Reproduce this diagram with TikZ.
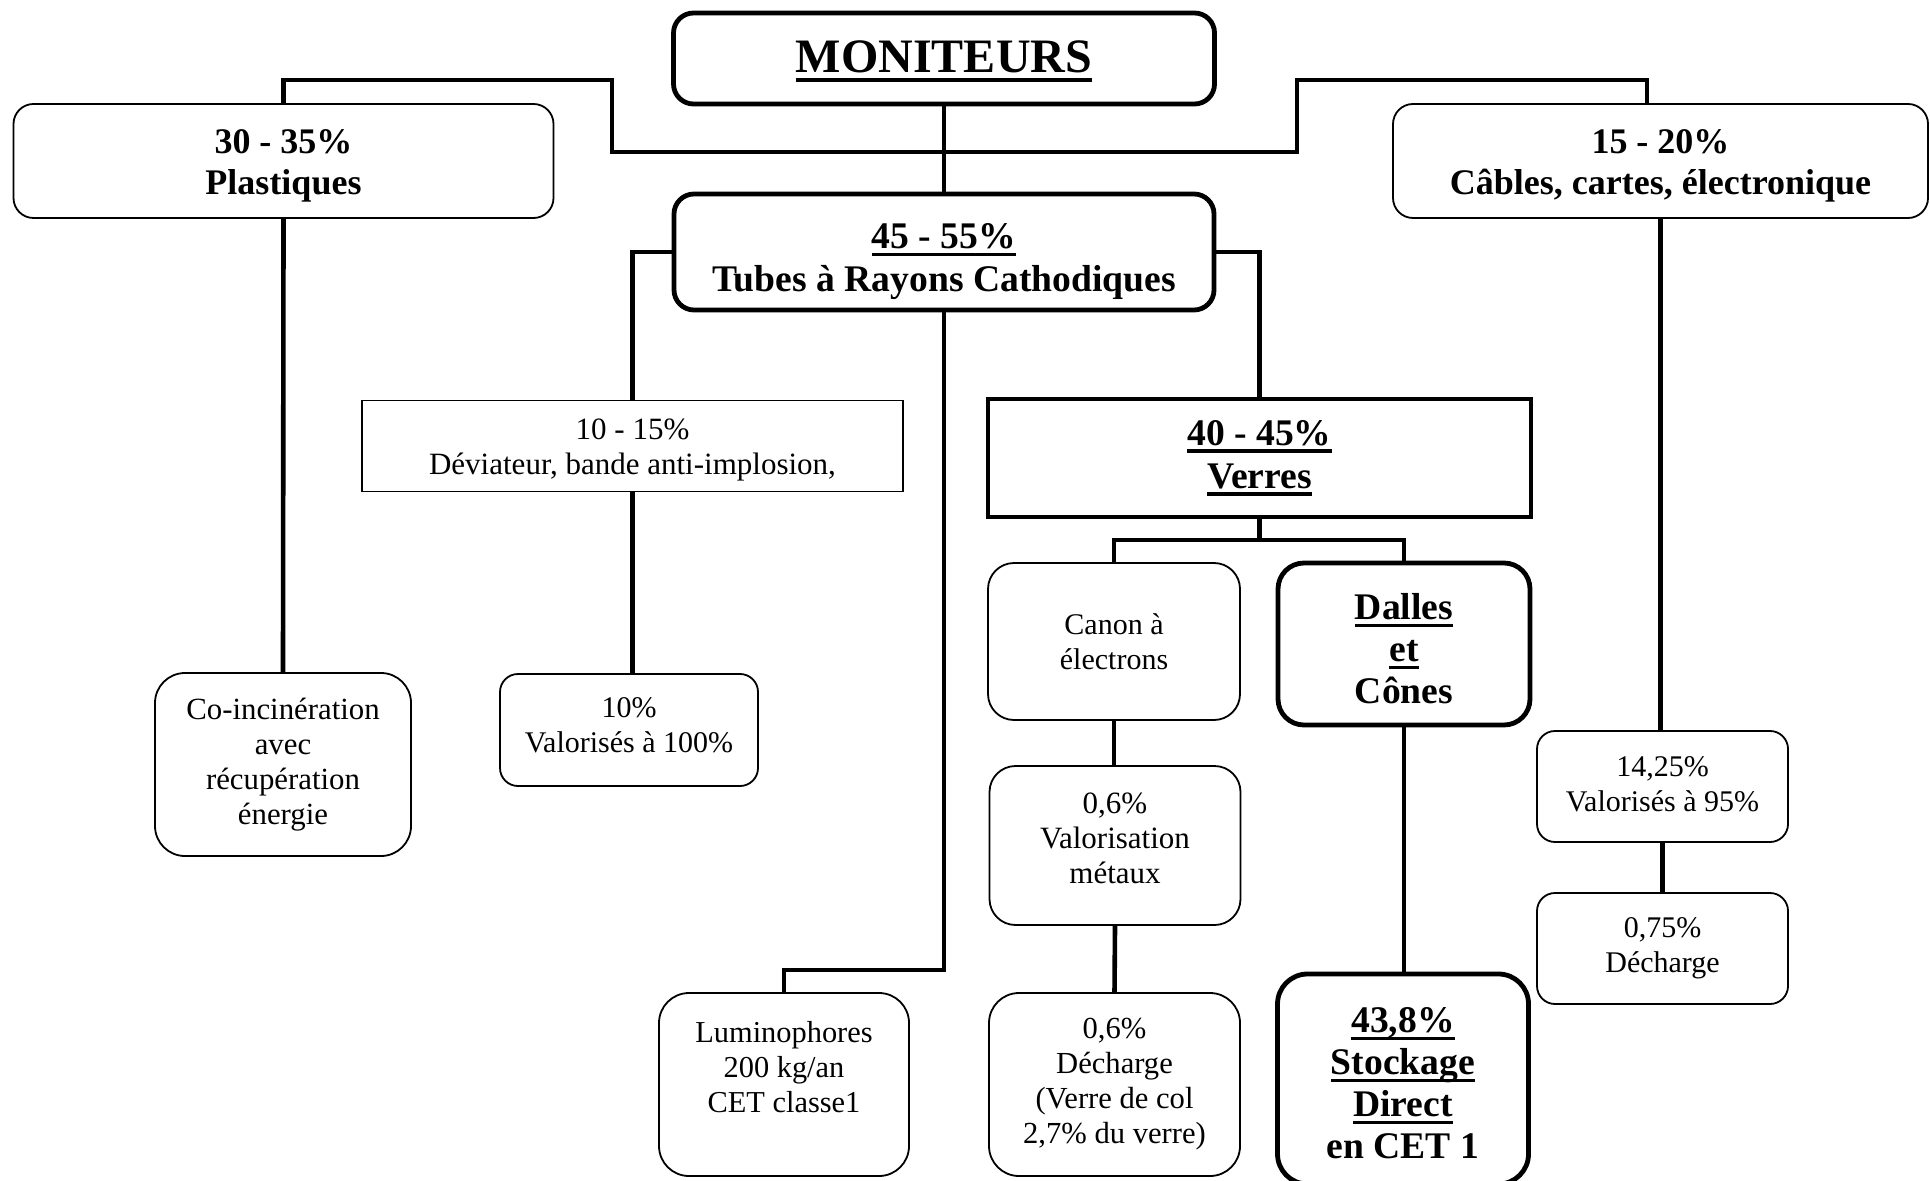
\documentclass[tikz,border=0pt]{standalone}
\usepackage{fontspec}
\setmainfont{Liberation Serif}
\newsavebox{\myulbox}
\newcommand\ulx[1]{\leavevmode\sbox\myulbox{#1}\rlap{\vrule width\wd\myulbox height -0.11em depth 0.2em}\usebox\myulbox}
\newcommand\dn[1]{\rule{0pt}{#1}}
\newcommand\up[1]{\rule[-#1]{0pt}{#1}}
\tikzset{
  conn/.style={line width=2.3pt},
  sz/.style 2 args={minimum width=#1*0.5pt, minimum height=#2*0.5pt},
  basebox/.style={draw, line width=0.9pt, align=center, inner sep=0pt},
  normbox/.style={basebox, font=\fontsize{15}{17.5}\selectfont},
  boldbox/.style={basebox, font=\fontsize{18}{20.5}\selectfont\bfseries},
  bigbold/.style={font=\fontsize{18.8}{21.5}\selectfont\bfseries},
  heavy/.style={line width=2.4pt},
}
\begin{document}
\begin{tikzpicture}[x=0.5pt,y=-0.5pt]
\useasboundingbox (0,0) rectangle (1930,1181);
% top level
\node[boldbox, heavy, rounded corners=10pt, sz={541}{91}, font=\fontsize{24}{28}\selectfont\bfseries] (mon) at (944,58.5) {\dn{18.6pt}\ulx{MONITEURS}};
\node[boldbox, rounded corners=10pt, sz={540}{114}] (plast) at (283.5,161) {\dn{16.4pt}30 - 35\%\\Plastiques};
\node[boldbox, rounded corners=10pt, sz={535}{114}] (cables) at (1660.5,161) {\dn{16.4pt}15 - 20\%\\Câbles, cartes, électronique};
\node[boldbox, bigbold, heavy, rounded corners=10pt, sz={540}{116}] (tubes) at (944,252) {\dn{22pt}\ulx{45 - 55\%}\\Tubes à Rayons Cathodiques};
% second level
\node[normbox, sz={541}{91}, font=\fontsize{15.5}{17.5}\selectfont] (devia) at (632.5,446) {\dn{14.5pt}10 - 15\%\\Déviateur, bande anti-implosion,};
\node[boldbox, heavy, sz={543}{118}, font=\fontsize{18.8}{21.5}\selectfont\bfseries] (verres) at (1259.5,458) {\ulx{40 - 45\%}\\\ulx{Verres}};
\node[normbox, rounded corners=13pt, sz={252}{157}] (canon) at (1114,641.5) {Canon à\\électrons};
\node[boldbox, heavy, rounded corners=13pt, sz={252}{162}, font=\fontsize{18.8}{21}\selectfont\bfseries] (dalles) at (1404,644) {\dn{17.8pt}\ulx{Dalles}\\\ulx{et}\\Cônes};
% leaves
\node[normbox, rounded corners=15pt, sz={256}{183}, font=\fontsize{15.4}{17.5}\selectfont] (coinc) at (283,764.5) {Co-incinération\\avec\\récupération\\énergie};
\node[normbox, rounded corners=9pt, sz={258}{112}] (val100) at (629,730) {10\%\\Valorisés à 100\%\up{5pt}};
\node[normbox, rounded corners=9pt, sz={251}{111}] (v1425) at (1662.5,786.5) {14,25\%\\Valorisés à 95\%\up{2pt}};
\node[normbox, rounded corners=9pt, sz={251}{111}] (v075) at (1662.5,948.5) {0,75\%\\Décharge};
\node[normbox, rounded corners=13pt, sz={251}{159}, font=\fontsize{15.5}{17.5}\selectfont] (valmet) at (1115,845.5) {0,6\%\\Valorisation\\métaux\up{7pt}};
\node[normbox, rounded corners=15pt, sz={251}{183}, font=\fontsize{15.3}{17.5}\selectfont] (dech06) at (1114.5,1084.5) {0,6\%\\Décharge\\(Verre de col\\2,7\% du verre)};
\node[normbox, rounded corners=15pt, sz={250}{183}, font=\fontsize{15.2}{17.5}\selectfont] (lumino) at (784,1084.5) {Luminophores\\200 kg/an\\CET classe1\\\mbox{}};
\node[boldbox, heavy, rounded corners=15pt, sz={251}{210}, font=\fontsize{18.8}{21}\selectfont\bfseries] (stock) at (1403,1079) {\dn{16.6pt}\ulx{43,8\%}\\\ulx{Stockage}\\\ulx{Direct}\\en CET 1};
% connectors
\coordinate (jl) at (612,80);
\coordinate (jm) at (1297,152);
\coordinate (jr) at (1647,80);
\draw[conn] (plast.north) |- (jl) |- (jm) |- (jr) -- (cables.north -| jr);
\draw[conn] (mon.south) -- (tubes.north);
\draw[conn] (tubes.west) -| (devia.north);
\draw[conn] (tubes.east) -| (verres.north);
\coordinate (lb) at (784,970);
\draw[conn] (tubes.south) |- (lb) -- (lumino.north);
\draw[conn] (plast.south) -- (coinc.north);
\draw[conn] (devia.south) -- (devia.south |- val100.north);
\draw[conn] (cables.south) -- (cables.south |- v1425.north);
\draw[conn] (v1425.south) -- (v075.north);
\coordinate (vb) at (1259.5,540);
\draw[conn] (verres.south) -- (vb);
\draw[conn] (canon.north) |- (vb) -| (dalles.north);
\draw[conn] (canon.south) -- (canon.south |- valmet.north);
\draw[conn] (valmet.south) -- (dech06.north);
\draw[conn] (dalles.south) -- (dalles.south |- stock.north);
\end{tikzpicture}
\end{document}
